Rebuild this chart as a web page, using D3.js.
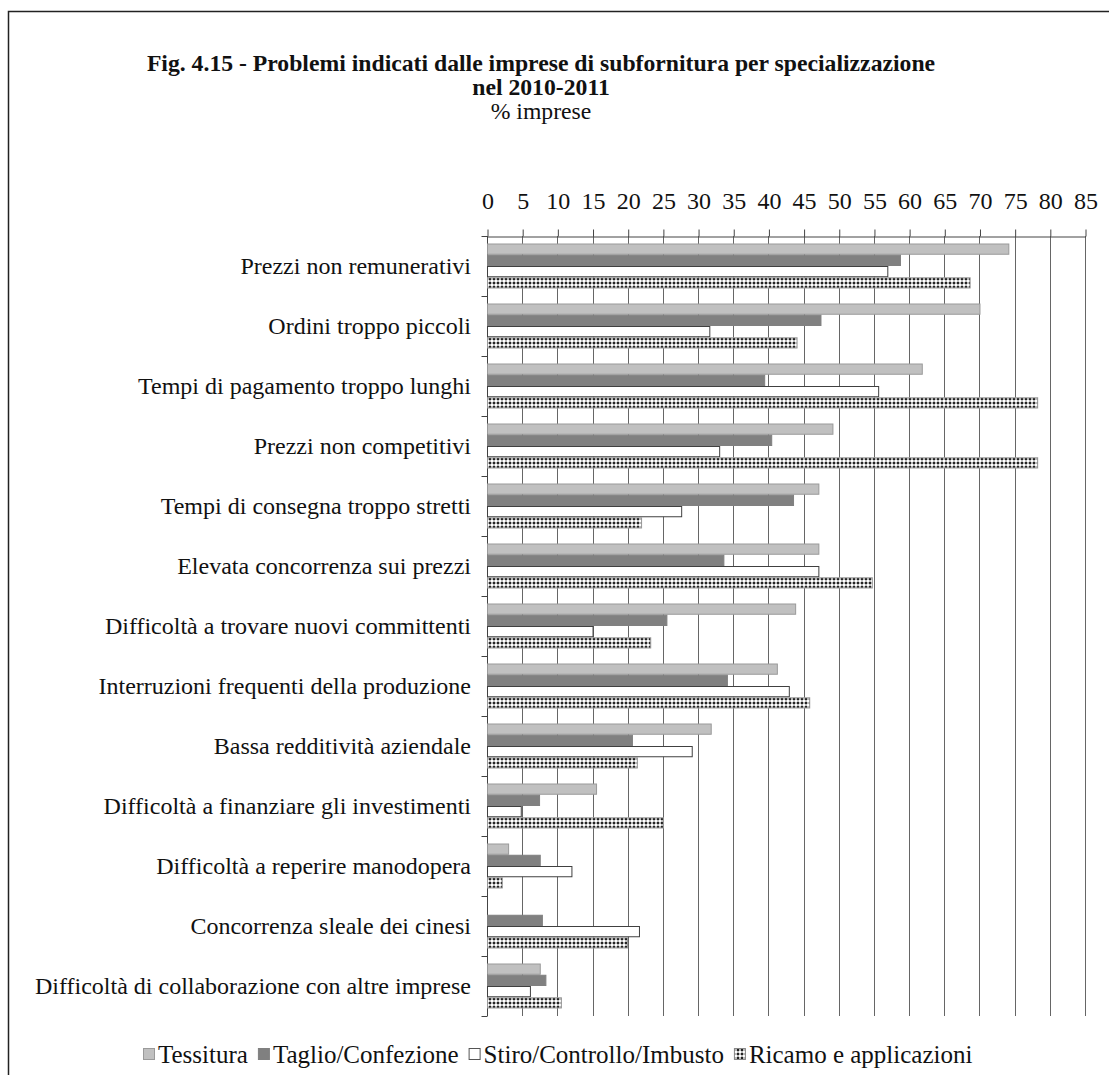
<!DOCTYPE html>
<html>
<head>
<meta charset="utf-8">
<script src="https://cdn.jsdelivr.net/npm/d3@7"></script>
<style>
  body { margin: 0; background: #fff; }
  svg { display: block; font-family: "Liberation Serif", "Times New Roman", serif; }
</style>
</head>
<body>
<svg id="chart" width="1109" height="1075"></svg>
<script>
const categories = [
  "Prezzi non remunerativi",
  "Ordini troppo piccoli",
  "Tempi di pagamento troppo lunghi",
  "Prezzi non competitivi",
  "Tempi di consegna troppo stretti",
  "Elevata concorrenza sui prezzi",
  "Difficoltà a trovare nuovi committenti",
  "Interruzioni frequenti della produzione",
  "Bassa redditività aziendale",
  "Difficoltà a finanziare gli investimenti",
  "Difficoltà a reperire manodopera",
  "Concorrenza sleale dei cinesi",
  "Difficoltà di collaborazione con altre imprese"
];

const seriesNames = ["Tessitura", "Taglio/Confezione", "Stiro/Controllo/Imbusto", "Ricamo e applicazioni"];

const tessitura = [74.1, 70.0, 61.8, 49.1, 47.1, 47.1, 43.8, 41.2, 31.8, 15.5, 3.0, 0, 7.5];
const taglio    = [58.7, 47.4, 39.4, 40.4, 43.5, 33.6, 25.5, 34.1, 20.6, 7.4, 7.5, 7.8, 8.3];
const stiro     = [56.9, 31.6, 55.6, 33.0, 27.6, 47.1, 15.0, 42.9, 29.1, 4.8, 12.0, 21.6, 6.1];
const ricamo    = [68.6, 44.0, 78.2, 78.2, 21.9, 54.7, 23.2, 45.8, 21.3, 25.0, 2.1, 19.9, 10.5];

const tickValues = d3.range(0, 90, 5);

const series = [tessitura, taglio, stiro, ricamo];

const svg = d3.select("#chart");

// pattern for "Ricamo"
const defs = svg.append("defs");
const pat = defs.append("pattern")
  .attr("id", "dots")
  .attr("patternUnits", "userSpaceOnUse")
  .attr("width", 4).attr("height", 4)
  .attr("x", 0).attr("y", 1);
pat.append("rect").attr("width", 4).attr("height", 4).attr("fill", "#fff");
pat.append("rect").attr("x", 1.5).attr("y", 0).attr("width", 1).attr("height", 4).attr("fill", "#777");
pat.append("rect").attr("x", 0).attr("y", 1.5).attr("width", 4).attr("height", 1).attr("fill", "#777");
pat.append("rect").attr("x", 1).attr("y", 1).attr("width", 2).attr("height", 2).attr("fill", "#222");

const styles = [
  {fill: "#c0c0c0", stroke: "#9a9a9a"},
  {fill: "#808080", stroke: "#808080"},
  {fill: "#ffffff", stroke: "#404040"},
  {fill: "url(#dots)", stroke: "#9a9a9a"}
];

function stext(g, x, y, txt, size, anchor) {
  return g.append("text")
    .attr("x", x).attr("y", y)
    .attr("text-anchor", anchor || "start")
    .attr("font-family", "Liberation Serif, serif")
    .attr("font-size", size)
    .attr("fill", "#111")
    .text(txt);
}

// frame
svg.append("rect")
  .attr("x", 8.5).attr("y", 11.5)
  .attr("width", 1200).attr("height", 1200)
  .attr("fill", "none")
  .attr("stroke", "#222")
  .attr("stroke-width", 1.5);

// titles
const cx = 541;
stext(svg, cx, 71, "Fig. 4.15 - Problemi indicati dalle imprese di subfornitura per specializzazione", 23.7, "middle")
  .attr("font-weight", "bold");
stext(svg, cx, 95, "nel 2010-2011", 23.7, "middle").attr("font-weight", "bold");
stext(svg, cx, 119, "% imprese", 23.7, "middle");

const plot = {left: 487, right: 1085, top: 236, bottom: 1016};

const x = d3.scaleLinear().domain([0, 85]).range([plot.left, plot.right]);
const y = d3.scaleBand().domain(categories).range([plot.top, plot.bottom]).paddingInner(0).paddingOuter(0);
const ySub = d3.scaleBand().domain(d3.range(4)).range([7.5, 52.5]);

// gridlines
svg.append("g")
  .selectAll("line")
  .data(tickValues.slice(1))
  .join("line")
    .attr("x1", d => Math.round(x(d)) + 0.5)
    .attr("x2", d => Math.round(x(d)) + 0.5)
    .attr("y1", plot.top)
    .attr("y2", plot.bottom)
    .attr("stroke", "#666")
    .attr("stroke-width", 1);

// top axis
const xAxis = d3.axisTop(x).tickValues(tickValues).tickSize(7).tickSizeOuter(0).tickFormat("");
const gx = svg.append("g")
  .attr("transform", `translate(0.5, ${plot.top + 0.5})`)
  .call(xAxis)
  .attr("font-family", null);
gx.select(".domain").attr("stroke", "#444");
gx.selectAll(".tick line").attr("stroke", "#444");
gx.selectAll(".tick")
  .each(function(d) {
    stext(d3.select(this), 0, -28, d, 24, "middle");
  });

// left axis
const gy = svg.append("g")
  .attr("transform", `translate(${plot.left + 0.5}, 0)`);
gy.append("line")
  .attr("y1", plot.top).attr("y2", plot.bottom)
  .attr("stroke", "#444");
gy.selectAll("line.tk")
  .data(categories.concat([null]))
  .join("line")
    .attr("class", "tk")
    .attr("x1", -6).attr("x2", 0)
    .attr("y1", (d, i) => Math.round(plot.top + i * y.step()) + 0.5)
    .attr("y2", (d, i) => Math.round(plot.top + i * y.step()) + 0.5)
    .attr("stroke", "#444");

const gl = svg.append("g");
categories.forEach(c => {
  stext(gl, 471, y(c) + y.bandwidth() / 2 + 8, c, 24, "end");
});

// bars
const barData = [];
categories.forEach((c, i) => {
  series.forEach((s, j) => {
    barData.push({cat: c, s: j, v: s[i]});
  });
});

svg.append("g")
  .selectAll("rect")
  .data(barData.filter(d => d.v > 0))
  .join("rect")
    .attr("x", x(0) + 0.5)
    .attr("y", d => y(d.cat) + ySub(d.s) + 0.5)
    .attr("width", d => x(d.v) - x(0))
    .attr("height", ySub.bandwidth() - 1)
    .attr("fill", d => styles[d.s].fill)
    .attr("stroke", d => styles[d.s].stroke)
    .attr("stroke-width", 1);

// legend
const legend = svg.append("g").attr("transform", "translate(0, 1055)");
let lx = 143;
seriesNames.forEach((name, j) => {
  legend.append("rect")
    .attr("x", lx + 0.5).attr("y", -6.5)
    .attr("width", 11).attr("height", 11)
    .attr("fill", styles[j].fill)
    .attr("stroke", j === 2 ? "#555" : (j === 3 ? "#888" : styles[j].stroke));
  const t = stext(legend, lx + 15, 8, name, 25, "start");
  lx += 15 + t.node().getComputedTextLength() + 10;
});
</script>
</body>
</html>
